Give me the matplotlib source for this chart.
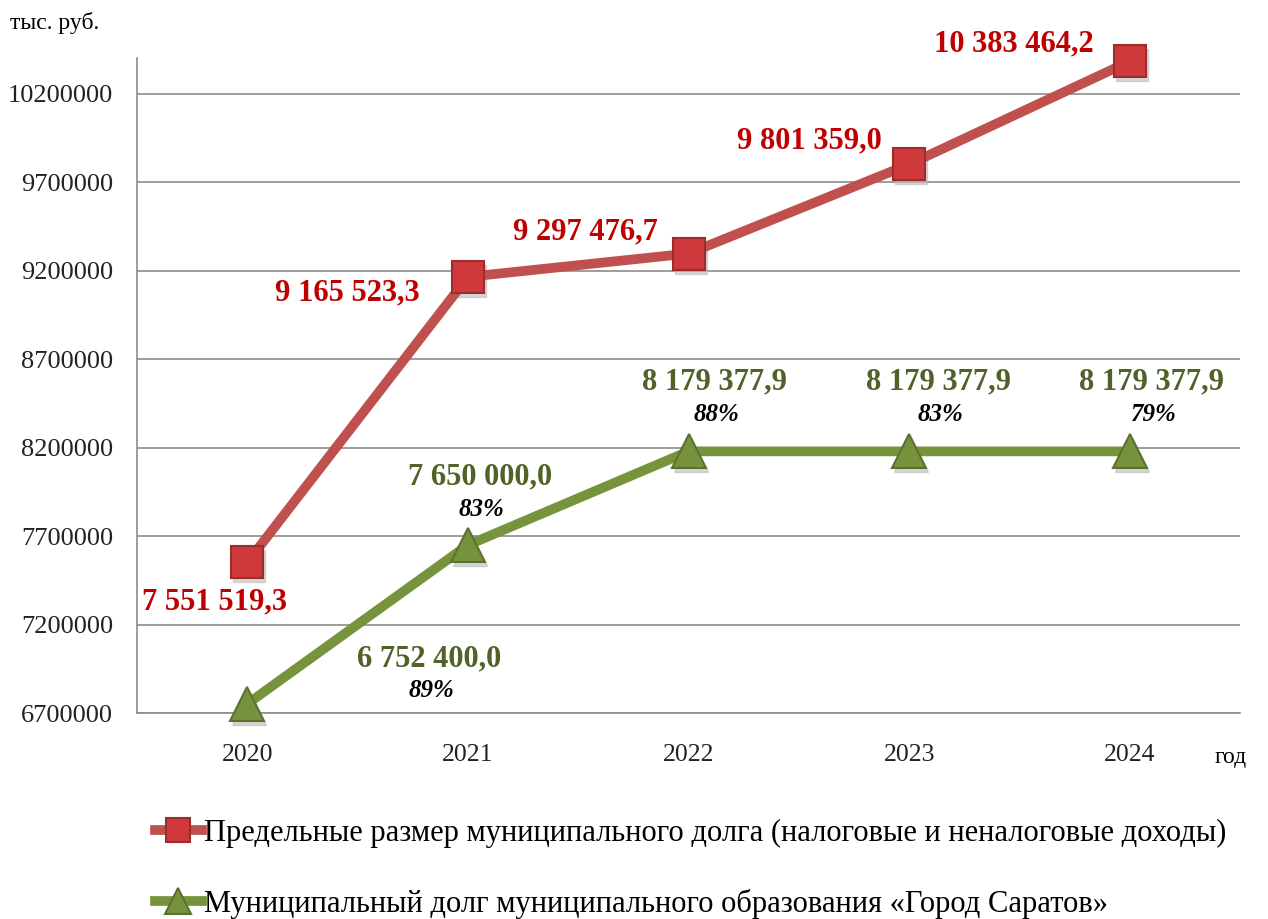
import matplotlib
matplotlib.use("Agg")
import matplotlib.pyplot as plt
import matplotlib.transforms as mtransforms

plt.rcParams['font.family'] = ['Liberation Serif', 'DejaVu Serif']

# данные
years = ['2020', '2021', '2022', '2023', '2024']
limit_vals = [7551519.3, 9165523.3, 9297476.7, 9801359.0, 10383464.2]
debt_vals = [6752400.0, 7650000.0, 8179377.9, 8179377.9, 8179377.9]
limit_labels = ['7 551 519,3', '9 165 523,3', '9 297 476,7', '9 801 359,0', '10 383 464,2']
debt_labels = ['6 752 400,0', '7 650 000,0', '8 179 377,9', '8 179 377,9', '8 179 377,9']
debt_pct = ['89%', '83%', '88%', '83%', '79%']
yticks = [6700000, 7200000, 7700000, 8200000, 8700000, 9200000, 9700000, 10200000]

name_limit = 'Предельные размер муниципального долга (налоговые и неналоговые доходы)'
name_debt = 'Муниципальный долг муниципального образования «Город Саратов»'

fig = plt.figure(figsize=(12.68, 9.19), dpi=100)
ax = fig.add_axes([0.108, 0.224, 0.870, 0.713])

x = list(range(len(years)))

# тени под маркерами
sh = mtransforms.offset_copy(ax.transData, fig=fig, x=2, y=-4, units='dots')
ax.plot(x, limit_vals, ls='none', marker='s', markersize=23, color='#BBBBBB',
        alpha=0.6, transform=sh, zorder=3.5, clip_on=False)
ax.plot(x, debt_vals, ls='none', marker='^', markersize=25, color='#BBBBBB',
        alpha=0.6, transform=sh, zorder=2.5, clip_on=False)

ax.plot(x, limit_vals, color='#C0504D', lw=7, marker='s', markersize=23,
        markerfacecolor='#D0393B', markeredgecolor='#9B2D2A', markeredgewidth=1.5,
        label=name_limit, zorder=4, clip_on=False)
ax.plot(x, debt_vals, color='#77933C', lw=7, marker='^', markersize=25,
        markerfacecolor='#76923C', markeredgecolor='#5A7230', markeredgewidth=1.5,
        label=name_debt, zorder=3, clip_on=False)

# подписи красной линии (смещения в пикселях)
red_off = [(-33, -39), (-121, -16), (-103, 22), (-100, 23), (-116, 17)]
for i, (v, t) in enumerate(zip(limit_vals, limit_labels)):
    ax.annotate(t, (i, v), xytext=red_off[i], textcoords='offset pixels',
                ha='center', va='center', fontsize=22, fontweight='bold',
                color='#C00000', zorder=6)

green_off = [(182, 45), (12, 68), (26, 69), (29, 69), (22, 69)]
for i, (v, t, p) in enumerate(zip(debt_vals, debt_labels, debt_pct)):
    dx, dy = green_off[i]
    ax.annotate(t, (i, v), xytext=(dx, dy), textcoords='offset pixels',
                ha='center', va='center', fontsize=22, fontweight='bold',
                color='#4F6228', zorder=6)
    ax.annotate(p, (i, v), xytext=(dx + 2, dy - 32), textcoords='offset pixels',
                ha='center', va='center', fontsize=18, fontweight='bold',
                fontstyle='italic', color='black', zorder=6)

ax.set_xlim(-0.5, 4.5)
ax.set_ylim(6700000, 10403000)
ax.set_xticks(x)
ax.set_xticklabels(years, fontsize=18.5, color='#222222')
ax.set_yticks(yticks)
ax.set_yticklabels([str(t) for t in yticks], fontsize=19, color='#222222')
ax.tick_params(length=0)
ax.tick_params(axis='y', pad=17)
ax.tick_params(axis='x', pad=22)
ax.grid(axis='y', color='#8C8C8C', lw=1.2)
ax.set_axisbelow(True)
for s in ['top', 'right']:
    ax.spines[s].set_visible(False)
for s in ['left', 'bottom']:
    ax.spines[s].set_color('#8C8C8C')
    ax.spines[s].set_linewidth(1.2)

fig.text(0.008, 0.975, 'тыс. руб.', fontsize=17, va='center', ha='left')
fig.text(0.958, 0.176, 'год', fontsize=17, va='center', ha='left')

fig.legend(loc='upper left', bbox_to_anchor=(0.122, 0.109), frameon=False,
           fontsize=22, handlelength=1.55, handletextpad=0.05, labelspacing=1.35,
           borderaxespad=0, borderpad=0, markerscale=0.75)

fig.savefig('out.png', dpi=100)
